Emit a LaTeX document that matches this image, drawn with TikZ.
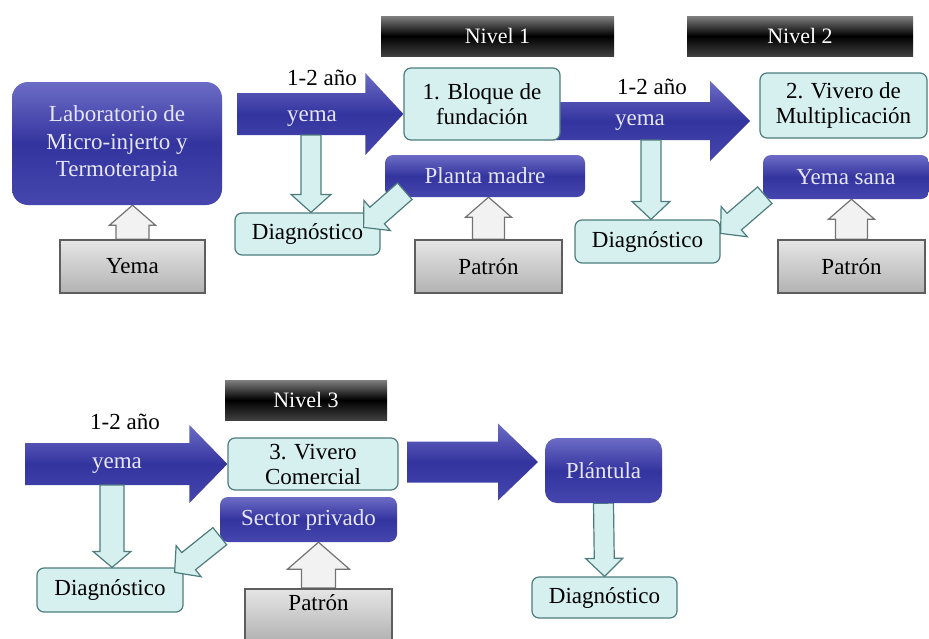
\documentclass[tikz,border=0pt]{standalone}
\usepackage{fontspec}
\setmainfont{Liberation Serif}
\usetikzlibrary{calc,backgrounds}

\definecolor{bluetop}{HTML}{6C6CC6}
\definecolor{bluemid}{HTML}{34349F}
\definecolor{bluebot}{HTML}{4646AE}
\definecolor{cyanfill}{HTML}{D6F0F0}
\definecolor{cyanline}{HTML}{4E7C7C}
\definecolor{greyline}{HTML}{5E5E5E}
\definecolor{lavtext}{HTML}{E6E6F8}

% block arrow: [style]{start}{end}{shaft half width}{head half width}{head length}
\newcommand{\blockarrow}[6][]{%
  \coordinate (ba-s) at #2; \coordinate (ba-e) at #3;
  \coordinate (ba-c) at ($(ba-e)!#6!(ba-s)$);
  \path[#1] ($(ba-s)!#4!-90:(ba-e)$) -- ($(ba-c)!#4!-90:(ba-e)$) -- ($(ba-c)!#5!-90:(ba-e)$)
    -- (ba-e) -- ($(ba-c)!#5!90:(ba-e)$) -- ($(ba-c)!#4!90:(ba-e)$) -- ($(ba-s)!#4!90:(ba-e)$) -- cycle;}

\begin{document}
\begin{tikzpicture}[x=1pt,y=-1pt,
 box/.style={rectangle,align=center,inner sep=3pt,font=\fontsize{23}{25}\selectfont},
 bluebox/.style={box,rounded corners=8pt,top color=bluetop,bottom color=bluebot,middle color=bluemid,text=lavtext},
 labbox/.style={bluebox,rounded corners=16pt,font=\fontsize{23}{27.5}\selectfont},
 cyanbox/.style={box,rounded corners=7pt,fill=cyanfill,draw=cyanline,line width=1.2pt},
 greybox/.style={box,top color=black!10,bottom color=black!30,draw=greyline,line width=1.5pt},
 nivel/.style={box,top color=black!50,bottom color=black!75,middle color=black,text=white,font=\fontsize{22}{25}\selectfont},
 note/.style={font=\fontsize{23}{25}\selectfont},
 armtext/.style={note,text=lavtext},
 bigarr/.style={top color=bluetop,bottom color=bluebot,middle color=bluemid},
 uparr/.style={fill=black!5,draw=black!55,line width=1.2pt},
 downarr/.style={fill=cyanfill,draw=cyanline,line width=1.2pt}]
\useasboundingbox (0,0) rectangle (929,638);

% top row
\node[labbox,minimum width=210,minimum height=123] (lab) at (117,143.5) {Laboratorio de\\Micro-injerto y\\Termoterapia};
\node[greybox,minimum width=145,minimum height=53] (yema) at (132.5,266.5) {Yema};
\node[cyanbox,minimum width=145,minimum height=42] (diag1) at (307.5,234) {Diagnóstico};
\node[nivel,minimum width=233,minimum height=40] (niv1) at (497.5,36) {Nivel 1};
\node[cyanbox,minimum width=156,minimum height=72] (bloque) at (482,104) {1. Bloque de\\fundación};
\node[bluebox,minimum width=200,minimum height=42] (madre) at (485,176) {Planta madre};
\node[greybox,minimum width=147,minimum height=53] (patron1) at (488.5,266.5) {Patrón};
\node[cyanbox,minimum width=145,minimum height=43] (diag2) at (647.5,241.5) {Diagnóstico};
\node[nivel,minimum width=226,minimum height=40] (niv2) at (800,36) {Nivel 2};
\node[cyanbox,minimum width=167,minimum height=65] (vivero) at (843.5,105.5) {2. Vivero de\\Multiplicación};
\node[bluebox,minimum width=166,minimum height=44] (sana) at (846,177) {Yema sana};
\node[greybox,minimum width=147,minimum height=53] (patron2) at (851.5,266.5) {Patrón};
\node[note] (t1) at (322,78) {1-2 año};
\node[note] (t2) at (652,87) {1-2 año};

% bottom row
\node[nivel,minimum width=162,minimum height=40] (niv3) at (306,400) {Nivel 3};
\node[cyanbox,minimum width=170,minimum height=52,inner ysep=0pt] (comercial) at (313,464) {3. Vivero\\Comercial};
\node[bluebox,minimum width=177,minimum height=45] (privado) at (308.5,519.5) {Sector privado};
\node[cyanbox,minimum width=146,minimum height=44] (diag3) at (110,590) {Diagnóstico};
\node[greybox,anchor=north,minimum width=147,minimum height=52,text height=16pt,text depth=24pt,inner ysep=6pt] (patron3) at (318.5,588) {Patrón};
\node[bluebox,rounded corners=12pt,minimum width=117,minimum height=65] (plantula) at (603.5,470.5) {Plántula};
\node[cyanbox,minimum width=145,minimum height=41] (diag4) at (604.5,597.5) {Diagnóstico};
\node[note] (t3) at (125,422) {1-2 año};

\begin{scope}[on background layer]
\coordinate (a1s) at (237,114);
\coordinate (a2s) at (545,121);
\coordinate (a2e) at (750,121);
\coordinate (a3s) at (25,464);
\coordinate (a4s) at (407,462);
\coordinate (a4e) at (538,462);
\blockarrow[bigarr]{(a1s)}{(bloque.west |- a1s)}{21pt}{41pt}{38pt}
\blockarrow[bigarr]{(a2s)}{(a2e)}{19pt}{40pt}{40pt}
\blockarrow[bigarr]{(a3s)}{(comercial.west |- a3s)}{21pt}{39pt}{38pt}
\blockarrow[bigarr]{(a4s)}{(a4e)}{20.5pt}{38.5pt}{40pt}
% down to the diagnostics
\coordinate (a1b) at (311,135);
\coordinate (a2b) at (651,140);
\coordinate (a3b) at (112,485);
\blockarrow[downarr]{(a1b)}{(a1b |- diag1.north)}{10pt}{20pt}{18pt}
\blockarrow[downarr]{(a2b)}{(a2b |- diag2.north)}{10pt}{19pt}{18pt}
\blockarrow[downarr]{(a3b)}{(a3b |- diag3.north)}{12pt}{19pt}{16pt}
\blockarrow[downarr]{(plantula.south)}{(diag4.north)}{10pt}{18.5pt}{18pt}
% up from the rootstocks
\blockarrow[uparr]{(yema.north)}{(yema.north |- lab.south)}{16.5pt}{23pt}{20pt}
\blockarrow[uparr]{(patron1.north)}{(patron1.north |- madre.south)}{16pt}{23pt}{20pt}
\blockarrow[uparr]{(patron2.north)}{(patron2.north |- sana.south)}{16pt}{23pt}{20pt}
\blockarrow[uparr]{(patron3.north)}{(patron3.north |- privado.south)}{17pt}{31pt}{27pt}
\end{scope}

\node[armtext] (y1) at (312,119) {yema};
\node[armtext] (y2) at (640,123) {yema};
\node[armtext] (y3) at (117,466) {yema};

% diagonal arrows
\blockarrow[downarr]{($(madre.south west)+(20,-6)$)}{($(diag1.north east)+(-17,15)$)}{11pt}{20pt}{18pt}
\blockarrow[downarr]{($(sana.south west)+(2,-4)$)}{($(diag2.north east)+(0,14)$)}{11pt}{20pt}{18pt}
\blockarrow[downarr]{($(privado.south west)+(0,-6)$)}{($(diag3.north east)+(-9,5)$)}{11pt}{20pt}{18pt}
\end{tikzpicture}
\end{document}
